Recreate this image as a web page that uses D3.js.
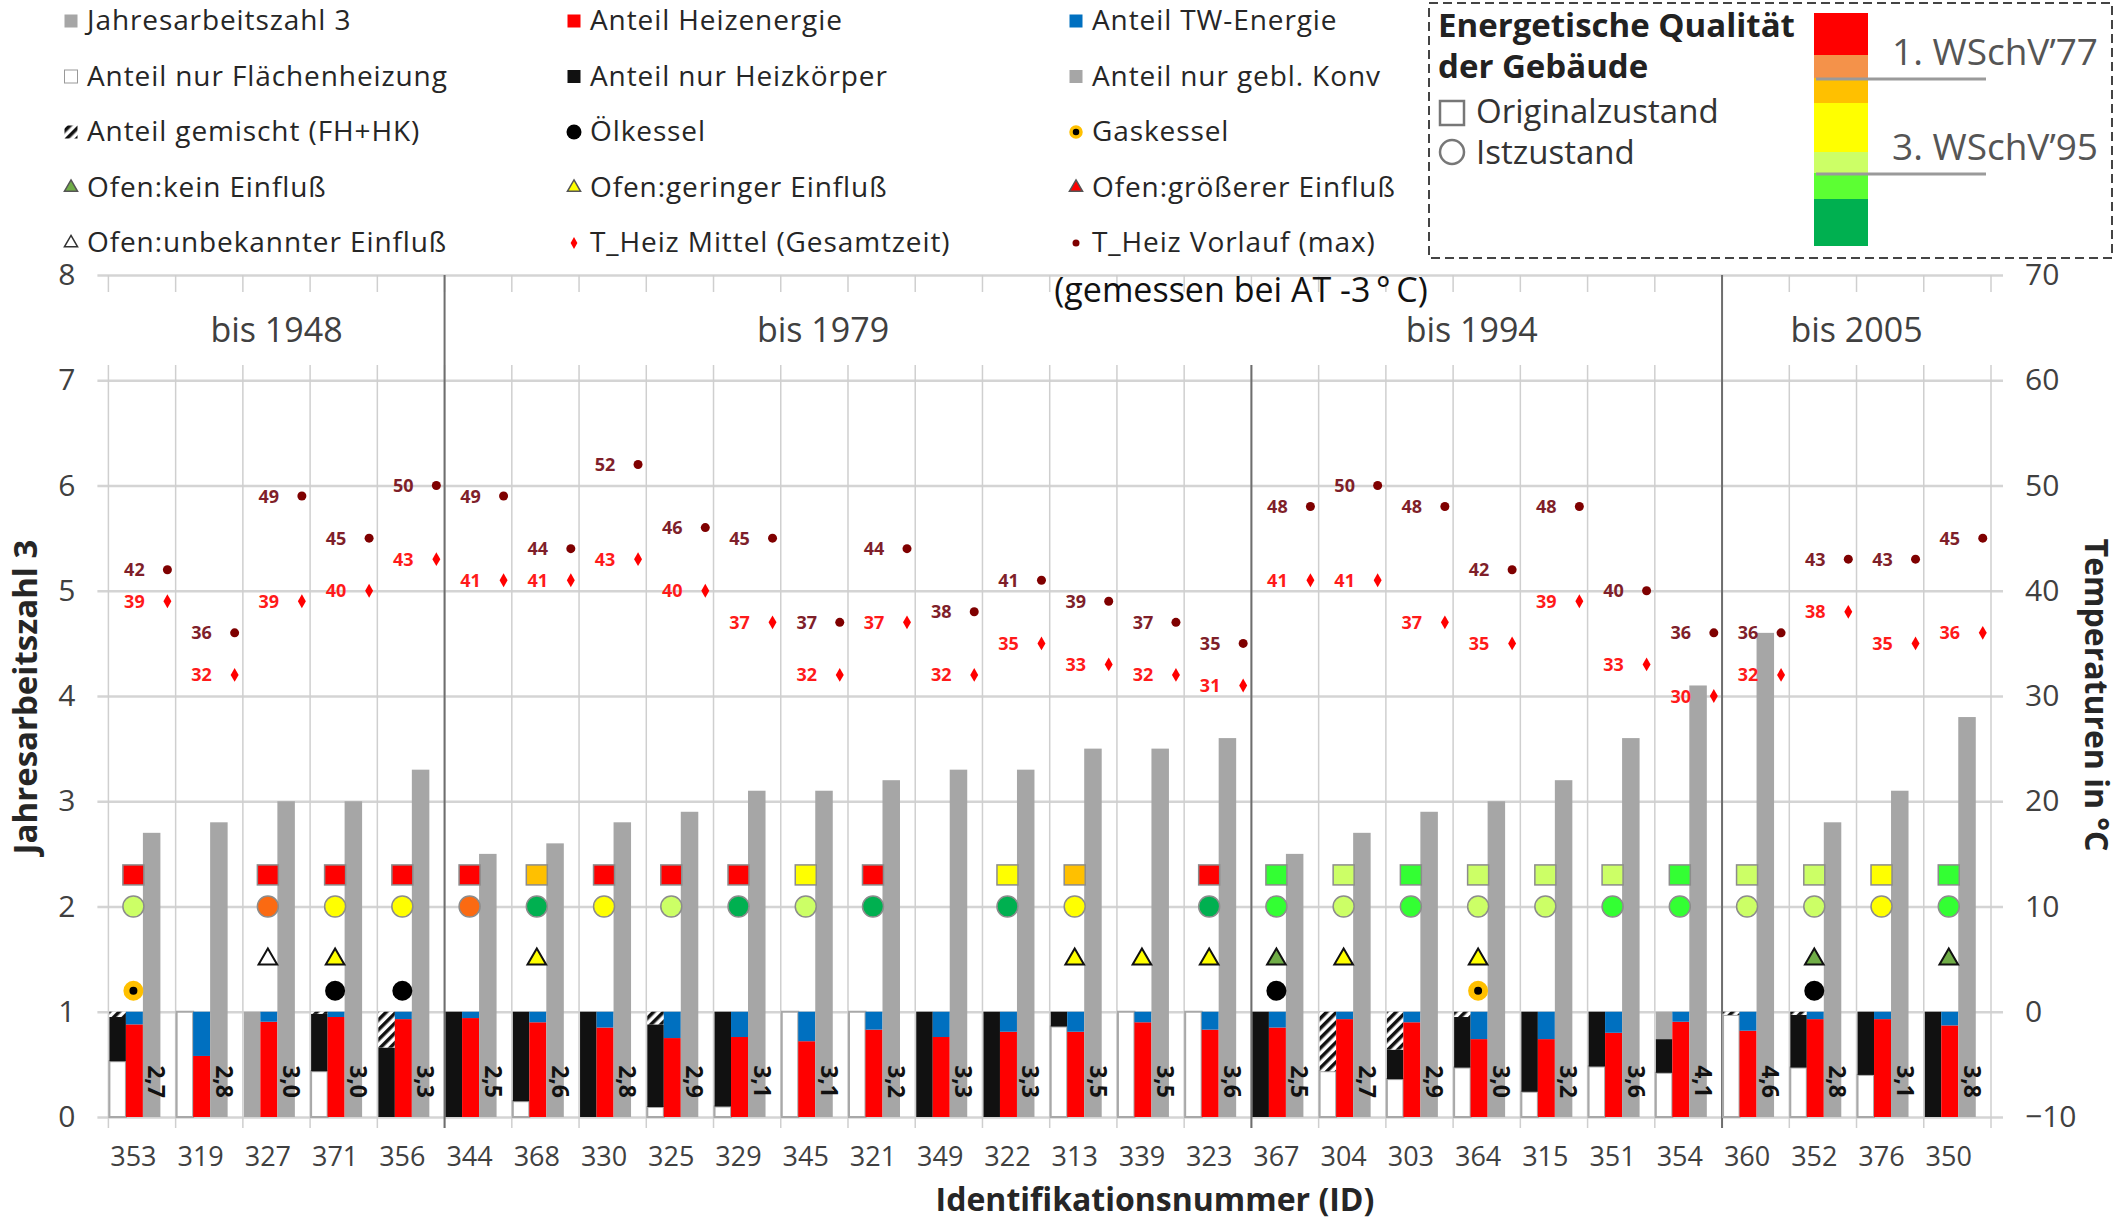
<!DOCTYPE html>
<html>
<head>
<meta charset="utf-8">
<script src="https://cdn.jsdelivr.net/npm/d3@7"></script>
<style>
body{margin:0;background:#fff}
svg{display:block}
text{font-family:"Open Sans",sans-serif}
</style>
</head>
<body>
<svg id="chart"></svg>
<script>
// Gebäude-IDs (x-Achse)
var ids = ["353","319","327","371","356","344","368","330","325","329","345","321","349","322","313","339","323","367","304","303","364","315","351","354","360","352","376","350"]
// Jahresarbeitszahl 3
var jaz = [2.7,2.8,3.0,3.0,3.3,2.5,2.6,2.8,2.9,3.1,3.1,3.2,3.3,3.3,3.5,3.5,3.6,2.5,2.7,2.9,3.0,3.2,3.6,4.1,4.6,2.8,3.1,3.8]
// Anteil Heizenergie (Rest = TW-Energie)
var heizAnteil = [0.88,0.58,0.905,0.95,0.93,0.94,0.90,0.85,0.75,0.76,0.72,0.83,0.76,0.81,0.81,0.90,0.83,0.85,0.93,0.90,0.74,0.74,0.80,0.905,0.82,0.93,0.93,0.87]
// Wärmeübergabe-Anteile
var fh   = [0.53,1,0,0.435,0,0,0.15,0,0.095,0.10,1,1,0,0,0.86,1,1,0,0.435,0.36,0.47,0.24,0.48,0.42,0.97,0.47,0.40,0]
var hk   = [0.42,0,0,0.545,0.66,1,0.85,1,0.785,0.90,0,0,1,1,0.14,0,0,1,0,0.28,0.48,0.76,0.52,0.32,0,0.50,0.60,1]
var konv = [0,0,1,0,0,0,0,0,0,0,0,0,0,0,0,0,0,0,0,0,0,0,0,0.26,0,0,0,0]
var mix  = [0.05,0,0,0.02,0.34,0,0,0,0.12,0,0,0,0,0,0,0,0,0,0.565,0.36,0.05,0,0,0,0.03,0.03,0,0]
// Energetische Qualität: Originalzustand (Quadrat) / Istzustand (Kreis)
var origQ = ["rot",null,"rot","rot","rot","rot","gelborange","rot","rot","rot","gelb","rot",null,"gelb","gelborange",null,"rot","gruen","hellgruen","gruen","hellgruen","hellgruen","hellgruen","gruen","hellgruen","hellgruen","gelb","gruen"]
var istQ  = ["hellgruen",null,"orange","gelb","gelb","orange","dunkelgruen","gelb","hellgruen","dunkelgruen","hellgruen","dunkelgruen",null,"dunkelgruen","gelb",null,"dunkelgruen","gruen","hellgruen","gruen","hellgruen","hellgruen","gruen","gruen","hellgruen","hellgruen","gelb","gruen"]
// Ofen-Einfluss und Kessel
var ofen   = [null,null,"unbekannt","gering",null,null,"gering",null,null,null,null,null,null,null,"gering","gering","gering","kein","gering",null,"gering",null,null,null,null,"kein",null,"kein"]
var kessel = ["gas",null,null,"oel","oel",null,null,null,null,null,null,null,null,null,null,null,null,"oel",null,null,"gas",null,null,null,null,"oel",null,null]
// Temperaturen in °C
var tVorlauf = [42,36,49,45,50,49,44,52,46,45,37,44,38,41,39,37,35,48,50,48,42,48,40,36,36,43,43,45]
var tMittel  = [39,32,39,40,43,41,41,43,40,37,32,37,32,35,33,32,31,41,41,37,35,39,33,30,32,38,35,36]
// Bauperioden
var periodNames = ["bis 1948","bis 1979","bis 1994","bis 2005"]
var periodStart = ["353","344","367","360"]
// Legende
var legendLabels = ["Jahresarbeitszahl 3","Anteil Heizenergie","Anteil TW-Energie",
  "Anteil nur Flächenheizung","Anteil nur Heizkörper","Anteil nur gebl. Konv",
  "Anteil gemischt (FH+HK)","Ölkessel","Gaskessel",
  "Ofen:kein Einfluß","Ofen:geringer Einfluß","Ofen:größerer Einfluß",
  "Ofen:unbekannter Einfluß","T_Heiz Mittel (Gesamtzeit)","T_Heiz Vorlauf (max)"]
var legendKeys = ["jaz","heiz","tw","fh","hk","konv","mix","oel","gas","kein","gering","groesser","unbekannt","tmittel","tvorlauf"]
var qualityClasses = ["rot","orange","gelborange","gelb","hellgruen","gruen","dunkelgruen"]
var wschvLabels = ["1. WSchV’77","3. WSchV’95"]

// ---- layout / styles ----
var screen = {width:2122, height:1223}
var plot = {left:108.4, right:1991, top:275, bottom:1117}
var bandBottom = 365
var markerLevel = {orig:2.3, ist:2.0, ofen:1.5, kessel:1.2}
var periodShift = [0,-25,-15,0]
var qualityColor = {rot:"#ff0000", orange:"#fb6a12", gelborange:"#ffc000", gelb:"#ffff00", hellgruen:"#ccff66", gruen:"#33ff33", dunkelgruen:"#00b050"}
var barColor = {rot:"#ff0000", orange:"#f4924a", gelborange:"#ffc000", gelb:"#ffff00", hellgruen:"#ccff66", gruen:"#5cff33", dunkelgruen:"#00b050"}
var ofenColor = {kein:"#70ad47", gering:"#ffff00", groesser:"#ff0000", unbekannt:"#ffffff"}
var fillOf = {jaz:"#a6a6a6", heiz:"#ff0000", tw:"#0070c0", fh:"#ffffff", hk:"#111111", konv:"#a6a6a6", mix:"url(#hatch)"}
var qualityBreaks = [13,55,78,103,152,173,199,246]
var textGray = "#404040"

var svg = d3.select("#chart").attr("width", screen.width).attr("height", screen.height)

var defs = svg.append("defs")
var pat = defs.append("pattern").attr("id","hatch").attr("patternUnits","userSpaceOnUse")
  .attr("width",7).attr("height",7).attr("patternTransform","rotate(45)")
pat.append("rect").attr("width",7).attr("height",7).attr("fill","#fff")
pat.append("rect").attr("width",3.5).attr("height",7).attr("fill","#111")

var xScale = d3.scaleBand().domain(ids).range([plot.left, plot.right])
var yScale = d3.scaleLinear().domain([0,8]).range([plot.bottom, plot.top])
var tScale = d3.scaleLinear().domain([-10,70]).range([plot.bottom, plot.top])

// horizontal gridlines + left labels
var gridW = plot.right - plot.left + 23
var leftAxis = svg.append("g").attr("transform","translate(" + (plot.right + 12) + ",0)")
  .call(d3.axisLeft(yScale).ticks(8).tickSize(gridW).tickPadding(22))
leftAxis.select(".domain").remove()
leftAxis.selectAll("line").attr("stroke","#d4d4d4").attr("stroke-width",2.5)
leftAxis.selectAll("text").attr("font-size",30).attr("fill",textGray).attr("font-family","Open Sans")

var rightAxis = svg.append("g").attr("transform","translate(" + (plot.right + 12) + ",0)")
  .call(d3.axisRight(tScale).ticks(8).tickSize(0).tickPadding(22))
rightAxis.select(".domain").remove()
rightAxis.selectAll("text").attr("font-size",30).attr("fill",textGray).attr("font-family","Open Sans")

// vertical category lines
var bounds = ids.map(function(d){return xScale(d)}).concat([plot.right])
svg.append("g").selectAll("line.v").data(bounds).enter().append("line")
  .attr("x1",function(d){return d}).attr("x2",function(d){return d})
  .attr("y1",bandBottom).attr("y2",plot.bottom + 11)
  .attr("stroke","#cfcfcf").attr("stroke-width",1.5)
svg.append("g").selectAll("line.t").data(bounds).enter().append("line")
  .attr("x1",function(d){return d}).attr("x2",function(d){return d})
  .attr("y1",plot.top).attr("y2",plot.top + 17)
  .attr("stroke","#cfcfcf").attr("stroke-width",1.5)

// period separators + labels
svg.append("g").selectAll("line").data(periodStart.slice(1)).enter().append("line")
  .attr("x1",function(d){return xScale(d)}).attr("x2",function(d){return xScale(d)})
  .attr("y1",function(d,i){return i==1 ? bandBottom : plot.top}).attr("y2",plot.bottom + 11)
  .attr("stroke","#6e6e6e").attr("stroke-width",2)

periodNames.forEach(function(name,i){
  var x0 = xScale(periodStart[i])
  var x1 = i < periodNames.length-1 ? xScale(periodStart[i+1]) : plot.right
  svg.append("text").attr("x",(x0+x1)/2 + periodShift[i]).attr("y",342)
    .attr("text-anchor","middle").attr("font-size",34).attr("fill",textGray).text(name)
})

svg.append("text").attr("x",1241).attr("y",302).attr("text-anchor","middle")
  .attr("font-family","DejaVu Sans").attr("font-size",34).attr("fill","#111")
  .text("(gemessen bei AT -3\u2009°\u2009C)")

// rows per building
var rows = ids.map(function(id,i){
  return {id:id, jaz:jaz[i], heiz:heizAnteil[i], tw:1-heizAnteil[i],
    fh:fh[i], hk:hk[i], konv:konv[i], mix:mix[i],
    orig:origQ[i], ist:istQ[i], ofen:ofen[i], kessel:kessel[i],
    tv:tVorlauf[i], tm:tMittel[i]}
})

// distribution stack
var distStack = d3.stack().keys(["fh","hk","konv","mix"])(rows)
distStack.forEach(function(layer){
  svg.append("g").selectAll("rect").data(layer).enter().append("rect")
    .filter(function(d){return d[1]-d[0] > 0})
    .attr("x",function(d){return xScale(d.data.id) + 1})
    .attr("width",16.5)
    .attr("y",function(d){return yScale(d[1])})
    .attr("height",function(d){return yScale(d[0]) - yScale(d[1])})
    .attr("fill",fillOf[layer.key])
    .attr("stroke",layer.key=="fh" ? "#a8a8a8" : "none")
    .attr("stroke-width",2)
})

// Heizenergie / TW stack
var energyStack = d3.stack().keys(["heiz","tw"])(rows)
energyStack.forEach(function(layer){
  svg.append("g").selectAll("rect").data(layer).enter().append("rect")
    .attr("x",function(d){return xScale(d.data.id) + 17.5})
    .attr("width",17)
    .attr("y",function(d){return yScale(d[1])})
    .attr("height",function(d){return yScale(d[0]) - yScale(d[1])})
    .attr("fill",fillOf[layer.key])
})

// JAZ bars
svg.append("g").selectAll("rect").data(rows).enter().append("rect")
  .attr("x",function(d){return xScale(d.id) + 34.5})
  .attr("width",17.5)
  .attr("y",function(d){return yScale(d.jaz)})
  .attr("height",function(d){return yScale(0) - yScale(d.jaz)})
  .attr("fill",fillOf.jaz)

svg.append("g").selectAll("text").data(rows).enter().append("text")
  .attr("transform",function(d){return "translate(" + (xScale(d.id) + 40) + "," + (yScale(0) - 19) + ") rotate(90)"})
  .attr("text-anchor","end").attr("font-size",23).attr("font-weight","bold").attr("fill","#111")
  .text(function(d){return d3.format(".1f")(d.jaz).replace(".",",")})

// markers
var mx = function(d){return xScale(d.id) + 25}
svg.append("g").selectAll("rect").data(rows.filter(function(d){return d.orig})).enter().append("rect")
  .attr("x",function(d){return mx(d) - 10.5}).attr("y",function(d){return yScale(markerLevel.orig) - 10})
  .attr("width",21).attr("height",20)
  .attr("fill",function(d){return qualityColor[d.orig]}).attr("stroke","#8c8c8c").attr("stroke-width",1.5)

svg.append("g").selectAll("circle").data(rows.filter(function(d){return d.ist})).enter().append("circle")
  .attr("cx",mx).attr("cy",yScale(markerLevel.ist)).attr("r",10.5)
  .attr("fill",function(d){return qualityColor[d.ist]}).attr("stroke","#8c8c8c").attr("stroke-width",1.5)

var tri = d3.symbol().type(d3.symbolTriangle).size(150)
svg.append("g").selectAll("path").data(rows.filter(function(d){return d.ofen})).enter().append("path")
  .attr("d",tri).attr("transform",function(d){return "translate(" + mx(d) + "," + yScale(markerLevel.ofen) + ")"})
  .attr("fill",function(d){return ofenColor[d.ofen]}).attr("stroke","#111").attr("stroke-width",2)

svg.append("g").selectAll("circle").data(rows.filter(function(d){return d.kessel})).enter().append("circle")
  .attr("cx",mx).attr("cy",yScale(markerLevel.kessel))
  .attr("r",function(d){return d.kessel=="gas" ? 7 : 10})
  .attr("fill","#000")
  .attr("stroke",function(d){return d.kessel=="gas" ? "#ffc000" : "none"})
  .attr("stroke-width",6)

// temperatures
var tx = function(d){return xScale(d.id) + 59}
var diamond = d3.symbol().type(d3.symbolDiamond).size(55)
svg.append("g").selectAll("path").data(rows).enter().append("path")
  .attr("d",diamond).attr("transform",function(d){return "translate(" + tx(d) + "," + tScale(d.tm) + ")"})
  .attr("fill","#ff0000")
svg.append("g").selectAll("circle").data(rows).enter().append("circle")
  .attr("cx",tx).attr("cy",function(d){return tScale(d.tv)}).attr("r",4.5).attr("fill","#7f0000")
svg.append("g").selectAll("text").data(rows).enter().append("text")
  .attr("x",function(d){return xScale(d.id) + 26}).attr("y",function(d){return tScale(d.tm) + 6.5})
  .attr("text-anchor","middle").attr("font-size",18).attr("font-weight","bold").attr("fill","#ff1a1a")
  .text(function(d){return d.tm})
svg.append("g").selectAll("text").data(rows).enter().append("text")
  .attr("x",function(d){return xScale(d.id) + 26}).attr("y",function(d){return tScale(d.tv) + 6.5})
  .attr("text-anchor","middle").attr("font-size",18).attr("font-weight","bold").attr("fill","#7f1f2a")
  .text(function(d){return d.tv})

// category labels
svg.append("g").selectAll("text").data(rows).enter().append("text")
  .attr("x",mx).attr("y",1166).attr("text-anchor","middle")
  .attr("font-size",27).attr("fill",textGray).text(function(d){return d.id})

// axis titles
svg.append("text").attr("x",1155).attr("y",1211).attr("text-anchor","middle")
  .attr("font-size",32).attr("font-weight","bold").attr("fill","#262626").text("Identifikationsnummer (ID)")
svg.append("text").attr("transform","translate(37,697) rotate(-90)").attr("text-anchor","middle")
  .attr("font-size",33).attr("font-weight","bold").attr("fill","#262626").text("Jahresarbeitszahl 3")
svg.append("text").attr("transform","translate(2085,695) rotate(90)").attr("text-anchor","middle")
  .attr("font-size",32).attr("font-weight","bold").attr("fill","#262626").text("Temperaturen in °C")

// legend
var legendColX = [71, 574, 1076]
var legend = svg.append("g").selectAll("g").data(legendKeys).enter().append("g")
  .attr("transform",function(d,i){return "translate(" + legendColX[i%3] + "," + (21 + Math.floor(i/3)*55.5) + ")"})
legend.each(function(key){
  var g = d3.select(this)
  if (["jaz","heiz","tw","fh","hk","konv","mix"].indexOf(key) >= 0) {
    g.append("rect").attr("x",-6.5).attr("y",-6.5).attr("width",13).attr("height",13)
      .attr("fill",fillOf[key]).attr("stroke",key=="fh" ? "#999" : "none").attr("stroke-width",1)
  } else if (key=="oel" || key=="gas") {
    g.append("circle").attr("r",key=="gas" ? 5 : 7.5).attr("fill","#000")
      .attr("stroke",key=="gas" ? "#ffc000" : "none").attr("stroke-width",3.5)
  } else if (ofenColor[key]) {
    g.append("path").attr("d",d3.symbol().type(d3.symbolTriangle).size(75))
      .attr("fill",ofenColor[key]).attr("stroke",key=="unbekannt" ? "#333" : "#555").attr("stroke-width",1.5)
  } else if (key=="tmittel") {
    g.append("path").attr("d",d3.symbol().type(d3.symbolDiamond).size(40)).attr("fill","#ff0000")
  } else {
    g.append("circle").attr("r",3.5).attr("fill","#7f0000")
  }
  g.append("text").attr("x",16).attr("y",9).attr("font-size",28).attr("letter-spacing",0.9).attr("fill","#262626")
    .text(legendLabels[legendKeys.indexOf(key)])
})

// Energetische Qualität box
var box = svg.append("g")
box.append("rect").attr("x",1429).attr("y",3).attr("width",683).attr("height",255)
  .attr("fill","none").attr("stroke","#444").attr("stroke-width",2).attr("stroke-dasharray","9,5")
box.append("text").attr("x",1438).attr("y",37).attr("font-size",33).attr("font-weight","bold").attr("fill","#222").text("Energetische Qualität")
box.append("text").attr("x",1438).attr("y",78).attr("font-size",33).attr("font-weight","bold").attr("fill","#222").text("der Gebäude")
box.append("rect").attr("x",1440).attr("y",101).attr("width",24).attr("height",24)
  .attr("fill","none").attr("stroke","#777").attr("stroke-width",2.5)
box.append("text").attr("x",1476).attr("y",123).attr("font-size",33).attr("fill","#333").text("Originalzustand")
box.append("circle").attr("cx",1452).attr("cy",152).attr("r",12)
  .attr("fill","none").attr("stroke","#777").attr("stroke-width",2.5)
box.append("text").attr("x",1476).attr("y",164).attr("font-size",33).attr("fill","#333").text("Istzustand")
box.selectAll("rect.q").data(qualityClasses).enter().append("rect")
  .attr("x",1814).attr("width",54)
  .attr("y",function(d,i){return qualityBreaks[i]})
  .attr("height",function(d,i){return qualityBreaks[i+1]-qualityBreaks[i]})
  .attr("fill",function(d){return barColor[d]})
var wschvY = [qualityBreaks[2] + 1, qualityBreaks[5] + 1]
box.selectAll("line.w").data(wschvY).enter().append("line")
  .attr("x1",1816).attr("x2",1986).attr("y1",function(d){return d}).attr("y2",function(d){return d})
  .attr("stroke","#9a9a9a").attr("stroke-width",3)
box.selectAll("text.w").data(wschvLabels).enter().append("text")
  .attr("x",1892).attr("y",function(d,i){return wschvY[i] - 14})
  .attr("font-size",37).attr("fill","#555").text(function(d){return d})
</script>
</body>
</html>
